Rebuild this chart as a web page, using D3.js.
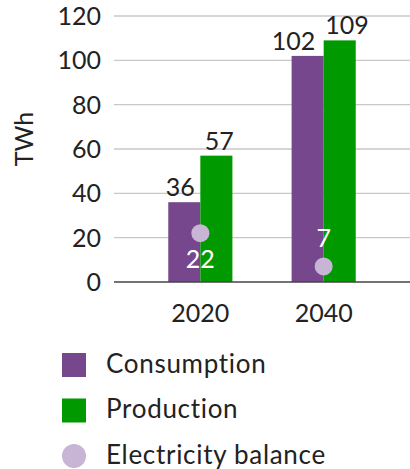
<!DOCTYPE html>
<html><head><meta charset="utf-8">
<script src="https://cdn.jsdelivr.net/npm/d3@7"></script>
<style>body{margin:0;background:#fff}svg{display:block}text{font-family:Lato,"Open Sans",sans-serif;font-weight:400;fill:#222}</style>
</head><body>
<svg id="c" width="410" height="469"></svg>
<script>
const categories = ["2020", "2040"];
const consumption = [36, 102];
const production = [57, 109];
const balance = [22, 7];
const yTicks = [0, 20, 40, 60, 80, 100, 120];
const seriesNames = ["Consumption", "Production", "Electricity balance"];
const colors = {Consumption: "#76478c", Production: "#009a00", "Electricity balance": "#c8b4d4"};

const svg = d3.select("#c");
const mLeft = 114, mRight = 410, mTop = 16, mBottom = 282;
const y = d3.scaleLinear().domain([0, 120]).range([mBottom, mTop]);
const x = d3.scaleBand().domain(categories).range([mLeft, mRight]).paddingInner(0.48).paddingOuter(0.44);
const sub = d3.scaleBand().domain(["Consumption", "Production"]).range([0, x.bandwidth()]);

// gridlines
svg.append("g").selectAll("line").data(yTicks.filter(d => d > 0)).join("line")
  .attr("x1", mLeft).attr("x2", mRight).attr("y1", d => y(d)).attr("y2", d => y(d))
  .attr("stroke", "#c8c8c8").attr("stroke-width", 1.3);

// y tick labels
svg.append("g").selectAll("text").data(yTicks).join("text")
  .attr("x", 101).attr("y", d => y(d)).attr("dy", "0.36em").attr("text-anchor", "end")
  .attr("font-size", 25).text(d => d);

// y title
svg.append("text").attr("transform", `translate(33,139) rotate(-90)`).attr("text-anchor", "middle")
  .attr("font-size", 25).text("TWh");

const rows = categories.map((c, i) => ({cat: c, Consumption: consumption[i], Production: production[i], bal: balance[i]}));

const g = svg.append("g").selectAll("g").data(rows).join("g").attr("transform", d => `translate(${x(d.cat)},0)`);
g.selectAll("rect").data(d => ["Consumption", "Production"].map(k => ({k, v: d[k]}))).join("rect")
  .attr("x", d => sub(d.k)).attr("width", sub.bandwidth())
  .attr("y", d => y(d.v)).attr("height", d => y(0) - y(d.v)).attr("fill", d => colors[d.k]);
g.each(function() {
  const labels = d3.select(this).selectAll("text.v").data(d => ["Consumption", "Production"].map(k => ({k, v: d[k]}))).join("text")
    .attr("class", "v").attr("x", d => sub(d.k) + sub.bandwidth() / 2).attr("y", d => y(d.v) - 6)
    .attr("text-anchor", "middle").attr("font-size", 25).text(d => d.v);
  const nodes = labels.nodes();
  const w0 = nodes[0].getComputedTextLength(), w1 = nodes[1].getComputedTextLength();
  const c0 = sub("Consumption") + sub.bandwidth() / 2, c1 = sub("Production") + sub.bandwidth() / 2;
  const overlap = (c0 + w0 / 2 + 6) - (c1 - w1 / 2);
  const shift = Math.max(0, overlap);
  d3.select(nodes[0]).attr("x", c0 - 2 - shift * 0.7);
  d3.select(nodes[1]).attr("x", c1 + 2 + shift * 0.3);
});

// baseline
svg.append("line").attr("x1", mLeft).attr("x2", mRight).attr("y1", y(0)).attr("y2", y(0))
  .attr("stroke", "#444").attr("stroke-width", 1.6);

// balance dots
const cx = d => x(d.cat) + x.bandwidth() / 2;
svg.append("g").selectAll("circle").data(rows).join("circle")
  .attr("cx", cx).attr("cy", d => y(d.bal)).attr("r", 9).attr("fill", colors["Electricity balance"]);
svg.append("g").selectAll("text").data(rows).join("text")
  .attr("x", cx).attr("y", d => d.bal > 15 ? y(d.bal) + 35 : y(d.bal) - 19)
  .attr("text-anchor", "middle").attr("font-size", 25).style("fill", "#fff").text(d => d.bal);

// x labels
svg.append("g").selectAll("text").data(categories).join("text")
  .attr("x", d => x(d) + x.bandwidth() / 2).attr("y", 322).attr("text-anchor", "middle")
  .attr("font-size", 25).text(d => d);

// legend
const lg = svg.append("g").selectAll("g").data(seriesNames).join("g")
  .attr("transform", (d, i) => `translate(62,${353 + i * 45.5})`);
lg.filter((d, i) => i < 2).append("rect").attr("width", 24).attr("height", 24).attr("fill", d => colors[d]);
lg.filter((d, i) => i === 2).append("circle").attr("cx", 12).attr("cy", 12).attr("r", 12).attr("fill", d => colors[d]);
lg.append("text").attr("x", 44).attr("y", 19.5).attr("font-size", 26).attr("letter-spacing", 0.7).text(d => d);
</script>
</body></html>
